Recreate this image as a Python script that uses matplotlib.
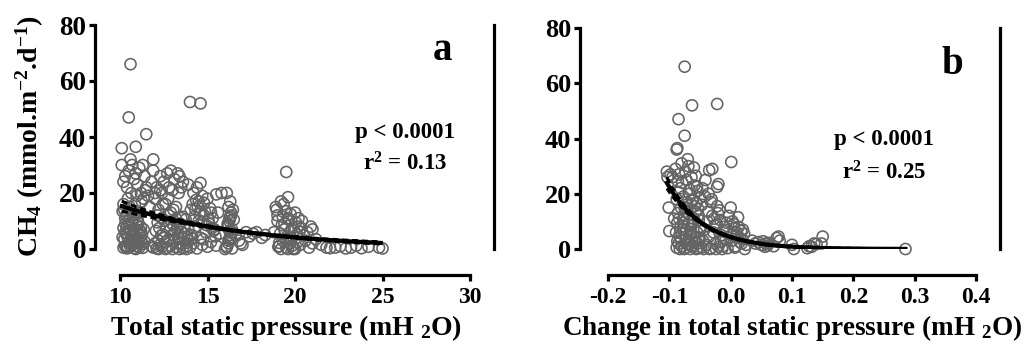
import numpy as np
import matplotlib
matplotlib.use("Agg")
import matplotlib.pyplot as plt

plt.rcParams['font.family'] = ['Liberation Serif', 'DejaVu Serif']
plt.rcParams['font.weight'] = 'bold'
plt.rcParams['mathtext.fontset'] = 'custom'
plt.rcParams['mathtext.rm'] = 'Liberation Serif:bold'
plt.rcParams['mathtext.default'] = 'rm'

#----- panel a : CH4 vs total static pressure -----
a1_x = [10.2,10.3,10.4,10.5,10.6,10.7,10.8,10.9,11.0,11.1,11.2,11.3,10.25,10.45,10.65,10.85,11.05,11.25,10.35,10.55,
        10.75,10.95,11.15,11.35,10.2,10.4,10.6,10.8,11.0,11.2,10.3,10.5,10.7,10.9,11.1,11.3,10.15,10.5,10.8,11.1,
        11.4,10.35,10.6,10.9,11.2,10.45,10.75,11.05,10.3,10.7]
a1_y = [0.5,1.0,0.2,2.0,0.8,1.5,0.3,2.5,1.0,0.5,3.0,0.4,3.5,4.0,2.8,4.5,3.2,5.0,5.5,6.0,
        5.2,6.5,4.8,7.0,7.5,8.0,6.8,7.2,8.5,6.2,9.0,8.8,9.5,3.8,2.2,1.8,4.2,10.0,5.8,6.6,
        2.6,1.2,2.0,0.0,7.8,0.6,3.0,9.2,6.0,4.4]
a2_x = [10.1,10.1,10.2,10.3,10.4,10.5,10.6,10.7,10.8,10.9,11.0,11.1,11.2,11.3,11.4,11.5,11.6,11.8,11.9,10.25,
        10.45,10.65,10.85,11.05,11.25,11.45,10.35,10.55,10.75,10.95,11.15,11.35,10.6,10.5,10.9,11.5,10.15,10.2,11.9,12.0,
        11.7,10.3,10.8,11.0]
a2_y = [36,30,24,26,22,28,32,30,25,27,23,29,20,30,26,22,19,24,32,14,
        18,20,16,13,17,21,12,15,11,19,13,18,66,47,36.5,41,13.5,16,28,20,
        15,11,12,10.5]
a3_x = [11.8,11.9,12.0,12.1,12.2,12.3,12.4,12.5,12.6,12.7,12.8,12.9,13.0,13.1,13.2,13.3,13.4,13.5,13.6,13.7,
        13.8,13.9,12.05,12.25,12.45,12.65,12.85,13.05,13.25,13.45,13.65,13.85,12.15,12.35,12.55,12.75,12.95,13.15,13.35,13.55,
        13.75,12.2,12.6,13.0,13.4,13.8,12.4,12.8,13.2,13.6]
a3_y = [1.0,0.5,2.0,0.2,3.0,1.5,0.8,4.0,2.5,0.4,3.5,1.2,5.0,2.8,0.6,4.5,1.8,6.0,0.3,5.5,
        2.2,7.0,6.5,7.5,5.2,8.0,6.8,8.5,7.2,9.0,8.2,4.2,9.5,4.8,10.0,3.2,9.2,6.2,3.8,2.0,
        10.5,0.0,0.0,0.0,0.0,0.0,11.0,12.0,10.8,11.5]
a4_x = [12.0,12.1,12.2,12.3,12.4,12.5,12.6,12.7,12.8,12.9,13.0,13.1,13.2,13.3,13.4,13.5,13.6,12.15,12.45,12.75,
        13.05,13.35,12.3,12.9,13.5]
a4_y = [18,22,14,21,20,24,16,27,22,13,21,25,15,27,26,22,24,12,16,18,
        14,20,26,28,11]
a5_x = [13.8,13.9,14.0,14.1,14.2,14.3,14.4,14.5,14.6,14.7,14.8,14.9,15.0,15.1,15.2,15.3,15.4,15.5,15.6,15.7,
        14.05,14.25,14.45,14.65,14.85,15.05,15.25,15.45,14.15,14.35,14.55,14.75,14.95,15.15,15.35,14.2,14.6,15.0,14.4,14.8,
        14.0,14.6,14.5,13.9,14.3,14.7,15.2,15.5,15.8,14.1]
a5_y = [1.0,3.0,0.5,5.0,2.0,8.0,0.2,10.0,4.0,1.5,12.0,6.0,0.8,9.0,2.5,11.0,7.0,1.2,13.0,5.5,
        14.0,11.5,15.0,9.5,13.5,10.5,7.5,4.5,16.0,17.5,12.5,3.5,8.5,14.5,6.5,20.0,23.6,18.0,22.0,16.5,
        52.5,52.0,17.0,23.0,14.2,19.0,13.0,19.5,20.0,3.8]
a6_x = [16.1,16.2,16.3,16.4,16.15,16.25,16.35,16.45,16.1,16.2,16.3,16.4,16.15,16.25,16.35,16.2,16.3,16.1,16.4,16.25,
        16.35,16.2,16.3,16.0,16.5]
a6_y = [0.5,2.0,4.0,6.0,8.0,10.0,12.0,14.0,1.0,3.0,5.0,7.0,9.0,11.0,13.0,15.0,17.0,20.0,0.2,6.5,
        3.5,8.5,11.5,0.0,10.5]
a7_x = [16.6,16.8,17.0,17.2,17.6,17.8,18.1,18.3,16.9,17.4]
a7_y = [5.0,3.0,1.5,6.0,5.5,6.0,4.0,5.0,2.0,4.5]
a8_x = [18.8,18.9,19.0,19.1,19.2,19.3,19.4,19.5,19.6,19.7,19.8,19.9,20.0,20.1,20.2,20.3,20.4,20.5,20.6,18.95,
        19.15,19.35,19.55,19.75,19.95,20.15,20.35,19.05,19.25,19.45,19.65,19.85,20.05,20.25,19.1,19.3,19.5,19.7,19.9,20.1,
        19.2,19.6,20.0,19.4,19.8,19.5,19.6,19.0,20.2,20.7,20.9,21.0,20.8]
a8_y = [6.0,15.0,12.0,1.0,17.0,3.0,9.0,0.5,11.0,2.0,7.0,0.2,13.0,4.0,8.0,1.5,10.0,5.0,3.0,14.0,
        5.5,16.0,4.5,12.5,6.5,2.5,7.5,0.8,8.5,3.5,10.5,1.2,9.5,6.2,2.2,11.5,13.5,4.2,0.0,5.2,
        0.0,0.0,0.0,7.0,3.8,27.5,18.5,10.0,11.0,6.0,8.0,2.0,0.5]
a9_x = [21.2,21.5,21.8,22.0,22.3,22.6,22.9,23.2,23.5,23.8,24.2,24.8,25.0,21.0]
a9_y = [3.5,1.5,0.5,0.3,0.5,1.0,0.2,0.5,1.2,0.3,0.8,0.5,0.2,7.0]

#----- panel b : CH4 vs change in total static pressure -----
b1_x = [-0.104,-0.103,-0.101,-0.100,-0.098,-0.095,-0.092,-0.090,-0.088,-0.087,-0.085,-0.075,-0.075,-0.063,-0.022,0.001,-0.035,-0.030,-0.020,-0.022]
b1_y = [28,26,15,6.5,27,26,11,29,36,36.5,47,41,66,52,52.5,31.5,28.5,29,23.5,22.5]
b2_x = [-0.088,-0.085,-0.083,-0.080,-0.078,-0.075,-0.073,-0.070,-0.068,-0.065,-0.063,-0.060,-0.058,-0.055,-0.053,-0.050,-0.086,-0.081,-0.076,-0.071,
        -0.066,-0.061,-0.056,-0.051,-0.087,-0.082,-0.077,-0.072,-0.067,-0.062,-0.057,-0.052,-0.084,-0.079,-0.074,-0.069,-0.064,-0.059,-0.054,-0.049,
        -0.089,-0.084,-0.079,-0.074,-0.069,-0.064,-0.059,-0.054,-0.088,-0.083,-0.078,-0.073,-0.068,-0.063,-0.058,-0.053,-0.080,-0.070,-0.060,-0.050,
        -0.087,-0.082,-0.077,-0.072,-0.067,-0.062,-0.057,-0.052,-0.086,-0.081,-0.076,-0.071,-0.066,-0.061,-0.056,-0.051,-0.085,-0.075,-0.065,-0.055]
b2_y = [0.5,2.0,4.5,1.0,7.0,0.2,3.5,9.0,1.5,5.5,0.8,11.0,2.5,6.0,0.3,8.0,13.0,15.0,12.0,17.0,
        14.0,10.0,16.5,4.0,9.5,22.0,19.0,25.0,20.0,18.0,13.5,10.5,27.0,24.0,28.0,30.0,26.0,23.0,21.0,7.5,
        6.0,11.0,5.5,13.5,3.0,8.5,15.5,2.0,18.0,0.0,9.5,6.5,12.5,1.2,4.2,14.5,31.0,32.5,29.5,18.5,
        2.8,7.8,10.8,16.0,21.5,17.5,26.5,12.0,24.5,3.2,0.0,1.8,0.0,4.8,0.0,3.0,20.5,14.8,7.2,22.5]
b3_x = [-0.048,-0.045,-0.043,-0.040,-0.038,-0.035,-0.033,-0.030,-0.028,-0.025,-0.023,-0.020,-0.018,-0.015,-0.013,-0.010,-0.008,-0.005,-0.047,-0.042,
        -0.037,-0.032,-0.027,-0.022,-0.017,-0.012,-0.007,-0.046,-0.041,-0.036,-0.031,-0.026,-0.021,-0.016,-0.011,-0.006,-0.044,-0.034,-0.024,-0.014]
b3_y = [0.5,3.0,7.0,1.5,10.0,4.5,0.2,12.0,6.0,2.0,9.0,0.8,14.0,5.0,1.0,8.0,3.5,0.3,16.0,19.0,
        13.5,17.0,11.0,15.5,10.5,6.5,9.5,22.0,25.0,20.0,18.0,8.5,13.0,2.5,4.0,6.8,0.0,0.0,0.0,0.0]
b4_x = [-0.003,0.000,0.002,0.005,0.008,0.010,0.012,0.015,0.018,0.020,0.022,0.025,0.003,0.007,0.013,0.017,0.023,0.001,0.009,0.019,0.005,0.015]
b4_y = [12.0,15.0,3.0,9.0,1.0,6.0,11.5,4.0,2.0,7.0,5.5,1.5,10.0,0.5,8.0,6.5,0.0,5.0,4.5,3.5,7.5,2.5]
b5_x = [0.045,0.050,0.053,0.056,0.058,0.060,0.062,0.070,0.075,0.078,0.080,0.100,0.103,0.125,0.128,0.132,0.136,0.140,0.148,0.150,0.285,0.040,0.035]
b5_y = [2.5,1.5,2.8,0.8,2.0,1.2,2.2,1.0,4.0,4.5,3.0,1.5,0.0,0.3,1.0,0.8,2.0,1.8,2.0,4.5,0.0,2.0,3.0]

xa = np.array(a1_x + a2_x + a3_x + a4_x + a5_x + a6_x + a7_x + a8_x + a9_x)
ya = np.array(a1_y + a2_y + a3_y + a4_y + a5_y + a6_y + a7_y + a8_y + a9_y)
xb = np.array(b1_x + b2_x + b3_x + b4_x + b5_x)
yb = np.array(b1_y + b2_y + b3_y + b4_y + b5_y)

#exponential fits
fit_a = (58.0, 0.132)      # y = A*exp(-k*x)
fit_b = (4.3, 16.5)
stats_a = ["p < 0.0001", r"r$^2$ = 0.13"]
stats_b = ["p < 0.0001", r"r$^2$ = 0.25"]

PX = 72.0 / 100  # pixels -> points

fig = plt.figure(figsize=(10.24, 3.45), dpi=100)
axa = fig.add_axes([120/1024, 96/345, 350/1024, 224/345])
axb = fig.add_axes([608/1024, 96/345, 368/1024, 221/345])

def style(ax, left_off, xsize, ysize):
    for s in ['left', 'bottom', 'right']:
        ax.spines[s].set_linewidth(3.2 * PX)
    ax.spines['top'].set_visible(False)
    ax.spines['left'].set_position(('outward', left_off * PX))
    ax.spines['bottom'].set_position(('outward', 26 * PX))
    ax.spines['right'].set_position(('outward', 24 * PX))
    ax.tick_params(axis='both', direction='out', length=6 * PX, width=3.2 * PX, pad=2)
    ax.tick_params(axis='x', labelsize=xsize, pad=4)
    ax.tick_params(axis='y', labelsize=ysize, right=False, labelright=False)
    for lab in ax.get_xticklabels() + ax.get_yticklabels():
        lab.set_fontweight('bold')
    ax.set_ylim(0, 80)
    ax.set_yticks([0, 20, 40, 60, 80])

def draw_fit(ax, xs, ys, lo, hi):
    ax.plot(xs, lo, color='black', lw=2.2, ls=(0, (2, 1.2)), zorder=3)
    ax.plot(xs, hi, color='black', lw=2.2, ls=(0, (2, 1.2)), zorder=3)
    ax.plot(xs, ys, color='black', lw=3.0, zorder=4)

# panel a
axa.scatter(xa, ya, s=64, facecolors='none', edgecolors='#646464', linewidths=1.15, clip_on=False, zorder=2)
xs = np.linspace(10.1, 24.9, 200)
ys = fit_a[0] * np.exp(-fit_a[1] * xs)
w = 0.035 + 0.012 * (xs - 16.5) ** 2 / 6
draw_fit(axa, xs, ys, ys * (1 - w), ys * (1 + w))
axa.set_xlim(10, 30)
axa.set_xticks([10, 15, 20, 25, 30])
style(axa, 25, 17, 19.5)
axa.text(0.92, 0.885, 'a', transform=axa.transAxes, fontsize=28, fontweight='bold', ha='center', va='center')
axa.text(0.815, 0.518, stats_a[0], transform=axa.transAxes, fontsize=16.5, fontweight='bold', ha='center', va='center')
axa.text(0.815, 0.38, stats_a[1], transform=axa.transAxes, fontsize=16.5, fontweight='bold', ha='center', va='center')

# panel b
axb.scatter(xb, yb, s=64, facecolors='none', edgecolors='#646464', linewidths=1.15, clip_on=False, zorder=2)
xs = np.linspace(-0.104, 0.285, 200)
ys = fit_b[0] * np.exp(-fit_b[1] * xs)
w = 0.04 + 8.0 * (xs + 0.03) ** 2
draw_fit(axb, xs, ys, ys * (1 - w), ys * (1 + w))
axb.set_xlim(-0.2, 0.4)
axb.set_xticks([-0.2, -0.1, 0.0, 0.1, 0.2, 0.3, 0.4])
axb.set_xticklabels(['-0.2', '-0.1', '0.0', '0.1', '0.2', '0.3', '0.4'])
style(axb, 28, 17, 19)
axb.text(0.935, 0.835, 'b', transform=axb.transAxes, fontsize=28, fontweight='bold', ha='center', va='center')
axb.text(0.75, 0.495, stats_b[0], transform=axb.transAxes, fontsize=16.5, fontweight='bold', ha='center', va='center')
axb.text(0.75, 0.345, stats_b[1], transform=axb.transAxes, fontsize=16.5, fontweight='bold', ha='center', va='center')

# axis titles
fig.text(30/1024, 1 - 136/345, r'CH$_4$ (mmol.m$^{-2}$.d$^{-1}$)', rotation=90, fontsize=20,
         fontweight='bold', ha='center', va='center')
fig.text(286/1024, 1 - 328/345, r'Total static pressure (mH $_2$O)', fontsize=20,
         fontweight='bold', ha='center', va='center')
fig.text(792/1024, 1 - 328/345, r'Change in total static pressure (mH $_2$O)', fontsize=19.5,
         fontweight='bold', ha='center', va='center')

fig.savefig('out.png', dpi=100)
